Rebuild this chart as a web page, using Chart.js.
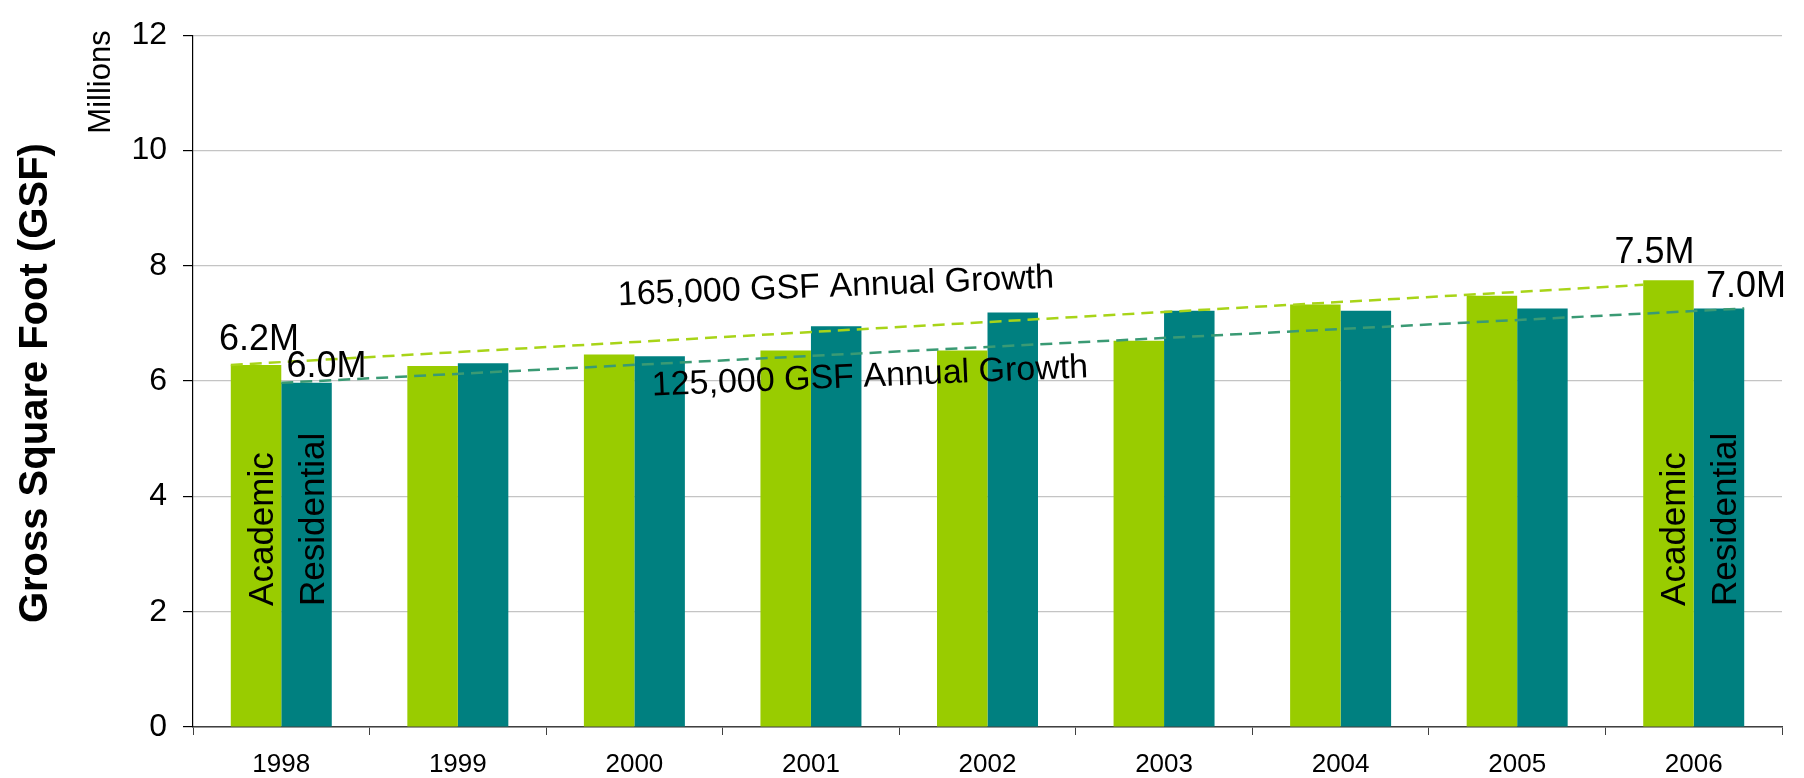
<!DOCTYPE html>
<html>
<head>
<meta charset="utf-8">
<script src="https://cdn.jsdelivr.net/npm/chart.js@4"></script>
<style>
  body { margin: 0; background: #fff; }
  #wrap { width: 1804px; height: 778px; }
</style>
</head>
<body>
<div id="wrap"><canvas id="gsfChart" width="1804" height="778"></canvas></div>
<script>
// values, millions of GSF
const years = ["1998", "1999", "2000", "2001", "2002", "2003", "2004", "2005", "2006"];
const academic = [6.28, 6.26, 6.46, 6.53, 6.53, 6.70, 7.33, 7.48, 7.75];
const residential = [5.97, 6.31, 6.43, 6.95, 7.19, 7.22, 7.22, 7.26, 7.26];

// dashed growth lines, x in category units (index), y in millions
const academicTrend = [{ x: -0.286, y: 6.28 }, { x: 7.714, y: 7.67 }];
const residentialTrend = [{ x: 0, y: 5.97 }, { x: 8.286, y: 7.26 }];

const yTicks = [0, 2, 4, 6, 8, 10, 12];
const endLabels = { academic: ["6.2M", "7.5M"], residential: ["6.0M", "7.0M"] };
const growthLabels = ["165,000 GSF Annual Growth", "125,000 GSF Annual Growth"];
const seriesNames = ["Academic", "Residential"];

const FONT = "'Liberation Sans', Arial, sans-serif";
const GREEN = "#99cc00";
const TEAL = "#008080";

// growth lines go through the hidden linear x2 scale and the y scale
const trendPlugin = {
  id: "gsfTrend",
  afterDatasetsDraw(chart) {
    const ctx = chart.ctx;
    const xs = chart.scales.x2, ys = chart.scales.y;
    const lines = [[academicTrend, "#a8d418"], [residentialTrend, "#3a9a74"]];
    ctx.save();
    ctx.lineWidth = 2.5;
    ctx.setLineDash([12, 7]);
    lines.forEach(([pts, color]) => {
      ctx.strokeStyle = color;
      ctx.beginPath();
      pts.forEach((p, i) => {
        const px = xs.getPixelForValue(p.x), py = ys.getPixelForValue(p.y);
        if (i === 0) ctx.moveTo(px, py); else ctx.lineTo(px, py);
      });
      ctx.stroke();
    });
    ctx.restore();
  }
};

const textPlugin = {
  id: "gsfText",
  afterDatasetsDraw(chart) {
    const ctx = chart.ctx;
    const metaA = chart.getDatasetMeta(0);
    const metaR = chart.getDatasetMeta(1);
    const last = years.length - 1;
    const y = chart.scales.y;

    ctx.save();
    ctx.fillStyle = "#000";

    // value labels on first and last year
    ctx.font = "36px " + FONT;
    ctx.textAlign = "center";
    ctx.textBaseline = "alphabetic";
    const a0 = metaA.data[0], aN = metaA.data[last];
    const r0 = metaR.data[0], rN = metaR.data[last];
    ctx.fillText(endLabels.academic[0], a0.x + 3, a0.y - 15);
    ctx.fillText(endLabels.residential[0], r0.x + 20, r0.y - 6);
    ctx.fillText(endLabels.academic[1], aN.x - 14, aN.y - 17);
    ctx.fillText(endLabels.residential[1], rN.x + 27, rN.y - 11);

    // series names written up the bars
    ctx.font = "35px " + FONT;
    ctx.textAlign = "left";
    const startY = y.getPixelForValue(2.1);
    [[a0, aN], [r0, rN]].forEach((pair, k) => {
      pair.forEach(bar => {
        ctx.save();
        ctx.translate(bar.x + 17, startY);
        ctx.rotate(-Math.PI / 2);
        ctx.fillText(seriesNames[k], 0, 0);
        ctx.restore();
      });
    });

    // growth notes, slightly tilted
    ctx.font = "34px " + FONT;
    ctx.textAlign = "center";
    ctx.textBaseline = "middle";
    const notes = [[836, 287, -2.3], [870, 377, -2.4]];
    notes.forEach((n, i) => {
      ctx.save();
      ctx.translate(n[0], n[1]);
      ctx.rotate(n[2] * Math.PI / 180);
      ctx.fillText(growthLabels[i], 0, 0);
      ctx.restore();
    });

    // axis titles
    ctx.save();
    ctx.font = "bold 40px " + FONT;
    ctx.translate(36, (chart.chartArea.top + chart.chartArea.bottom) / 2 + 2);
    ctx.rotate(-Math.PI / 2);
    ctx.fillText("Gross Square Foot (GSF)", 0, 0);
    ctx.restore();

    ctx.save();
    ctx.font = "31px " + FONT;
    ctx.textBaseline = "alphabetic";
    ctx.translate(110, 82);
    ctx.rotate(-Math.PI / 2);
    ctx.fillText("Millions", 0, 0);
    ctx.restore();

    ctx.restore();
  }
};

const ctx = document.getElementById("gsfChart").getContext("2d");
const gsfChart = new Chart(ctx, {
  type: "bar",
  data: {
    labels: years,
    datasets: [
      {
        label: "Academic",
        data: academic,
        backgroundColor: GREEN,
        borderWidth: 0,
        categoryPercentage: 0.572,
        barPercentage: 1.0,
      },
      {
        label: "Residential",
        data: residential,
        backgroundColor: TEAL,
        borderWidth: 0,
        categoryPercentage: 0.572,
        barPercentage: 1.0,
      },
    ],
  },
  options: {
    responsive: false,
    animation: false,
    events: [],
    layout: { padding: { top: 23, right: 22, left: 0, bottom: 0 } },
    plugins: {
      legend: { display: false },
      tooltip: { enabled: false },
    },
    scales: {
      x: {
        type: "category",
        offset: true,
        grid: {
          offset: true,
          drawOnChartArea: false,
          drawTicks: true,
          tickLength: 8,
          tickColor: "#404040",
        },
        border: { color: "#404040", width: 1.5 },
        ticks: {
          color: "#000",
          font: { family: FONT, size: 26 },
          padding: 14,
          maxRotation: 0,
        },
        afterFit(scale) { scale.height = 51; },
      },
      x2: {
        type: "linear",
        display: false,
        offset: false,
        min: -0.5,
        max: years.length - 0.5,
      },
      y: {
        min: 0,
        max: 12,
        afterBuildTicks(scale) { scale.ticks = yTicks.map(v => ({ value: v })); },
        grid: {
          color: "#c4c4c4",
          lineWidth: 1.2,
          tickLength: 10,
          tickColor: "#000",
        },
        border: { color: "#000", width: 1.2 },
        ticks: {
          color: "#000",
          font: { family: FONT, size: 32 },
          padding: 16,
        },
        afterFit(scale) { scale.width = 193; },
      },
    },
  },
  plugins: [trendPlugin, textPlugin],
});
</script>
</body>
</html>
